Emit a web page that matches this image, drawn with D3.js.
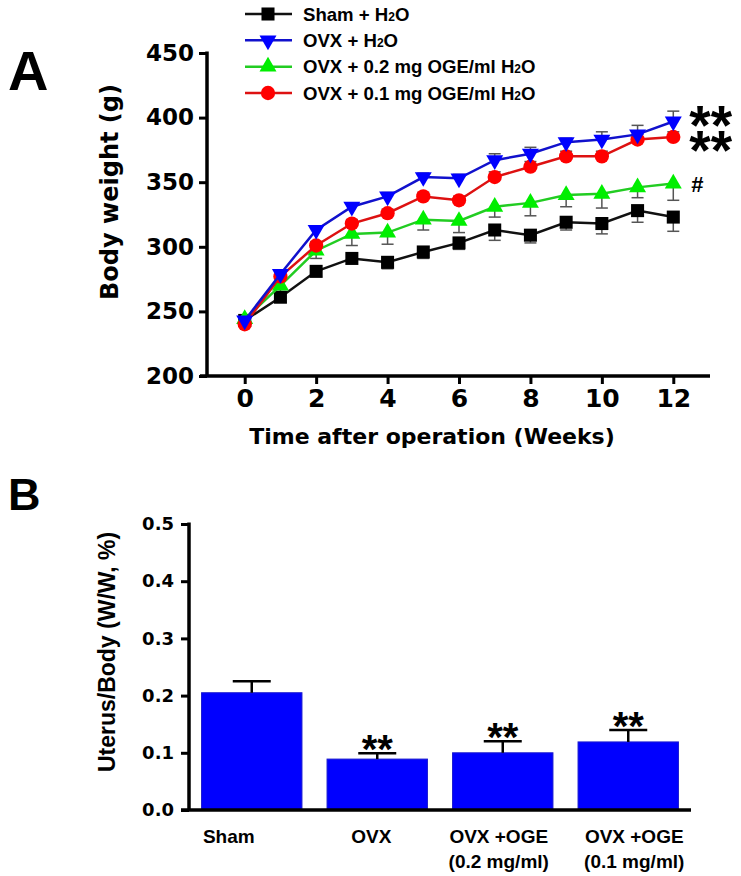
<!DOCTYPE html>
<html><head><meta charset="utf-8">
<script src="https://cdn.jsdelivr.net/npm/d3@7"></script>
<style>body{margin:0;background:#fff} svg{display:block}</style>
</head><body>
<svg id="c" width="741" height="876"></svg>
<script>
// ---------- Panel A data ----------
const weeks = [0,1,2,3,4,5,6,7,8,9,10,11,12];
const weekTicks = [0,2,4,6,8,10,12];
const weightTicks = [200,250,300,350,400,450];
const shamH2O   = [243,261,281,291,288,296,303,313,309,319,318,328,323];
const ovxH2O    = [243,279,313,331,339,354,353,367,372,381,383,387,397];
const ovxOGE02  = [244,270,297,310,311,321,320,331,334,340,341,346,349];
const ovxOGE01  = [240,277,301,318,326,339,336,354,362,370,370,383,385];
const shamErr   = [3,4,4,3,5,5,5,8,6,6,8,9,11];
const ovxErr    = [2,3,3,3,3,3,3,5,5,3,6,7,8];
const oge02Err  = [3,5,6,9,9,8,9,8,10,9,11,8,13];
const oge01Err  = [2,3,3,3,3,3,3,4,4,4,4,4,4];
const seriesNames = ["Sham + H", "OVX + H", "OVX + 0.2 mg OGE/ml H", "OVX + 0.1 mg OGE/ml H"];
const seriesMarks = ["", "**", "#", "**"];

// ---------- Panel B data ----------
const groups = ["Sham", "OVX", "OVX +OGE 0.2", "OVX +OGE 0.1"];
const groupLine1 = ["Sham", "OVX", "OVX +OGE", "OVX +OGE"];
const groupLine2 = ["", "", "(0.2 mg/ml)", "(0.1 mg/ml)"];
const uterusRatio = [0.205, 0.089, 0.100, 0.119];
const uterusErr   = [0.020, 0.010, 0.020, 0.021];
const uterusStars = ["", "**", "**", "**"];
const ratioTicks = [0.0, 0.1, 0.2, 0.3, 0.4, 0.5];

const svg = d3.select("#c");
const DJ = "'DejaVu Sans', sans-serif";
const AR = "'Liberation Sans', Arial, sans-serif";

// ================= Panel A =================
const xA = d3.scaleLinear().domain([-1, 13]).range([209, 709]);
const yA = d3.scaleLinear().domain([200, 450]).range([376, 53]);

const styles = [
  {vals: shamH2O, err: shamErr, dir: 1, line: "#111", fill: "#000", sym: d3.symbolSquare, size: 170, rot: 0},
  {vals: ovxOGE02, err: oge02Err, dir: 1, line: "#22cc22", fill: "#00ee00", sym: d3.symbolTriangle, size: 125, rot: 0},
  {vals: ovxOGE01, err: oge01Err, dir: -1, line: "#dd1111", fill: "#ff0000", sym: d3.symbolCircle, size: 160, rot: 0},
  {vals: ovxH2O, err: ovxErr, dir: -1, line: "#1111cc", fill: "#0000ff", sym: d3.symbolTriangle, size: 125, rot: 180}
];

// axes
const gA = svg.append("g");
gA.append("line").attr("x1", 200).attr("x2", 710).attr("y1", yA(200)).attr("y2", yA(200))
  .attr("stroke", "#000").attr("stroke-width", 3.5);
gA.append("line").attr("x1", 207).attr("x2", 207).attr("y1", yA(450)-1.5).attr("y2", yA(200))
  .attr("stroke", "#000").attr("stroke-width", 3.5);

const yAxisA = gA.append("g").attr("transform", "translate(207,0)")
  .call(d3.axisLeft(yA).tickValues(weightTicks).tickSize(8).tickPadding(5).tickSizeOuter(0));
yAxisA.select(".domain").remove();
yAxisA.selectAll(".tick line").attr("stroke-width", 3);
yAxisA.selectAll(".tick text").attr("font-family", DJ).attr("font-weight", "bold").attr("font-size", 23).attr("fill", "#000");

const xAxisA = gA.append("g").attr("transform", `translate(0,${yA(200)})`)
  .call(d3.axisBottom(xA).tickValues(weekTicks).tickSize(8).tickPadding(5).tickSizeOuter(0));
xAxisA.select(".domain").remove();
xAxisA.selectAll(".tick line").attr("stroke-width", 3);
xAxisA.selectAll(".tick text").attr("font-family", DJ).attr("font-weight", "bold").attr("font-size", 25).attr("fill", "#000");

gA.append("text").attr("x", 432).attr("y", 444).attr("text-anchor", "middle")
  .attr("font-family", DJ).attr("font-weight", "bold").attr("font-size", 22).text("Time after operation (Weeks)");
gA.append("text").attr("transform", "translate(118,192) rotate(-90)").attr("text-anchor", "middle")
  .attr("font-family", DJ).attr("font-weight", "bold").attr("font-size", 24).text("Body weight (g)");
svg.append("text").attr("x", 8).attr("y", 90).attr("font-family", AR).attr("font-weight", "bold")
  .attr("font-size", 56).text("A");

// error bars
styles.forEach(s => {
  const g = gA.append("g");
  weeks.forEach((w, i) => {
    const y0 = yA(s.vals[i]), y1 = yA(s.vals[i] + s.dir * -s.err[i]);
    g.append("line").attr("x1", xA(w)).attr("x2", xA(w)).attr("y1", y0).attr("y2", y1)
      .attr("stroke", "#555").attr("stroke-width", 1.5);
    g.append("line").attr("x1", xA(w)-6).attr("x2", xA(w)+6).attr("y1", y1).attr("y2", y1)
      .attr("stroke", "#555").attr("stroke-width", 1.5);
  });
});
// lines & markers
const lineGen = d3.line().x((d, i) => xA(weeks[i])).y(d => yA(d));
styles.forEach(s => {
  gA.append("path").attr("d", lineGen(s.vals)).attr("fill", "none")
    .attr("stroke", s.line).attr("stroke-width", 2.5);
  gA.selectAll(null).data(s.vals).enter().append("path")
    .attr("d", d3.symbol().type(s.sym).size(s.size))
    .attr("transform", (d, i) => `translate(${xA(weeks[i])},${yA(d)}) rotate(${s.rot})`)
    .attr("fill", s.fill);
});

// significance marks
const lastI = weeks.length - 1;
gA.append("text").attr("x", xA(12) + 16).attr("y", yA(ovxH2O[lastI]) - 8 + 31)
  .attr("font-family", AR).attr("font-weight", "bold").attr("font-size", 55).text(seriesMarks[1]);
gA.append("text").attr("x", xA(12) + 16).attr("y", yA(ovxOGE01[lastI]) + 1 + 31)
  .attr("font-family", AR).attr("font-weight", "bold").attr("font-size", 55).text(seriesMarks[3]);
gA.append("text").attr("x", xA(12) + 18).attr("y", yA(ovxOGE02[lastI]) + 9)
  .attr("font-family", AR).attr("font-weight", "bold").attr("font-size", 22).text(seriesMarks[2]);

// legend
const legendOrder = [
  {name: seriesNames[0], s: styles[0]},
  {name: seriesNames[1], s: styles[3]},
  {name: seriesNames[2], s: styles[1]},
  {name: seriesNames[3], s: styles[2]}
];
const legY = d3.scalePoint().domain(d3.range(4)).range([14, 93]);
legendOrder.forEach((L, i) => {
  const yy = legY(i);
  const g = svg.append("g");
  g.append("line").attr("x1", 245).attr("x2", 292).attr("y1", yy).attr("y2", yy)
    .attr("stroke", L.s.line).attr("stroke-width", 2.5);
  g.append("path").attr("d", d3.symbol().type(L.s.sym).size(L.s.size))
    .attr("transform", `translate(268,${yy}) rotate(${L.s.rot})`).attr("fill", L.s.fill);
  const t = g.append("text").attr("x", 303).attr("y", yy + 6.5)
    .attr("font-family", AR).attr("font-weight", "bold").attr("font-size", 18.6);
  t.append("tspan").text(L.name);
  t.append("tspan").attr("font-size", 12).text("2");
  t.append("tspan").text("O");
});

// ================= Panel B =================
const xB = d3.scaleBand().domain(groups).range([189, 691]).paddingInner(0.2).paddingOuter(0.1);
const yB = d3.scaleLinear().domain([0, 0.5]).range([810, 524]);
const gB = svg.append("g");

gB.selectAll(null).data(uterusRatio).enter().append("rect")
  .attr("x", (d, i) => xB(groups[i])).attr("width", xB.bandwidth())
  .attr("y", d => yB(d)).attr("height", d => yB(0) - yB(d))
  .attr("fill", "#0000ff").attr("stroke", "#1a1ad0").attr("stroke-width", 1);

// error bars (upward)
uterusRatio.forEach((v, i) => {
  const cx = xB(groups[i]) + xB.bandwidth() / 2;
  const yt = yB(v + uterusErr[i]);
  gB.append("line").attr("x1", cx).attr("x2", cx).attr("y1", yB(v)).attr("y2", yt)
    .attr("stroke", "#000").attr("stroke-width", 2.5);
  gB.append("line").attr("x1", cx - 19).attr("x2", cx + 19).attr("y1", yt).attr("y2", yt)
    .attr("stroke", "#000").attr("stroke-width", 2.5);
  if (uterusStars[i]) {
    gB.append("text").attr("x", cx).attr("y", yt - 13 + 23).attr("text-anchor", "middle")
      .attr("font-family", AR).attr("font-weight", "bold").attr("font-size", 40).text(uterusStars[i]);
  }
});

// axes
gB.append("line").attr("x1", 181).attr("x2", 691).attr("y1", yB(0)).attr("y2", yB(0))
  .attr("stroke", "#000").attr("stroke-width", 3.5);
gB.append("line").attr("x1", 189).attr("x2", 189).attr("y1", yB(0.5) - 1.5).attr("y2", yB(0))
  .attr("stroke", "#000").attr("stroke-width", 3.5);
const yAxisB = gB.append("g").attr("transform", "translate(189,0)")
  .call(d3.axisLeft(yB).tickValues(ratioTicks).tickFormat(d3.format(".1f")).tickSize(8).tickPadding(7).tickSizeOuter(0));
yAxisB.select(".domain").remove();
yAxisB.selectAll(".tick line").attr("stroke-width", 3);
yAxisB.selectAll(".tick text").attr("font-family", DJ).attr("font-weight", "bold").attr("font-size", 18).attr("fill", "#000");

const labelShift = [-23, -6, -4, 6];
groups.forEach((g, i) => {
  const cx = xB(g) + xB.bandwidth() / 2 + labelShift[i];
  gB.append("text").attr("x", cx).attr("y", 843).attr("text-anchor", "middle")
    .attr("font-family", AR).attr("font-weight", "bold").attr("font-size", 19).text(groupLine1[i]);
  if (groupLine2[i]) gB.append("text").attr("x", cx).attr("y", 868).attr("text-anchor", "middle")
    .attr("font-family", AR).attr("font-weight", "bold").attr("font-size", 19).text(groupLine2[i]);
});
gB.append("text").attr("transform", "translate(115,652) rotate(-90)").attr("text-anchor", "middle")
  .attr("font-family", AR).attr("font-weight", "bold").attr("font-size", 23).text("Uterus/Body (W/W, %)");
svg.append("text").attr("x", 8).attr("y", 510).attr("font-family", AR).attr("font-weight", "bold")
  .attr("font-size", 45).text("B");
</script>
</body></html>
